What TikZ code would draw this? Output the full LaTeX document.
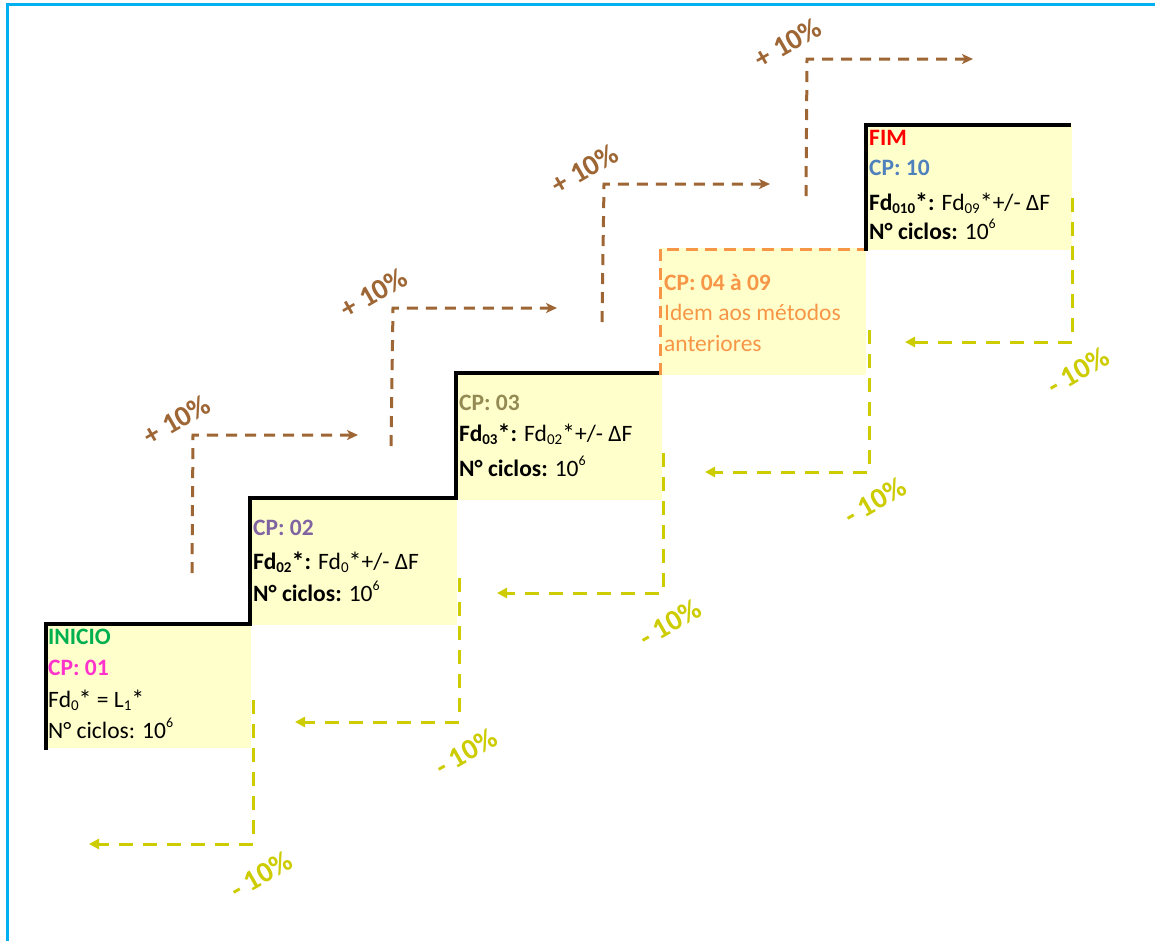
\documentclass[tikz,border=0pt]{standalone}
\usepackage{fontspec}
\setmainfont{Carlito}
\usetikzlibrary{arrows.meta}
\definecolor{boxfill}{RGB}{255,255,204}
\definecolor{frameblue}{RGB}{0,176,240}
\definecolor{upbrown}{RGB}{158,102,52}
\definecolor{downyel}{RGB}{204,204,0}
\definecolor{cinicio}{RGB}{0,176,80}
\definecolor{cpone}{RGB}{255,51,204}
\definecolor{cptwo}{RGB}{128,100,162}
\definecolor{cpthree}{RGB}{148,138,84}
\definecolor{cpfour}{RGB}{247,150,70}
\definecolor{cfim}{RGB}{255,0,0}
\definecolor{cpten}{RGB}{79,129,189}
\newcommand{\mysub}[1]{\raisebox{-0.3ex}{\fontsize{15}{15}\selectfont #1}}
\newcommand{\mysup}[1]{\raisebox{0.9ex}{\fontsize{14}{14}\selectfont #1}}
\newcommand{\bigast}{\raisebox{-0.1ex}{\fontsize{26}{26}\selectfont *}}
\tikzset{
  stepbox/.style={fill=boxfill, draw=none},
  txt/.style={anchor=base west, inner sep=0pt, font=\fontsize{23.5}{27}\selectfont},
  stair/.style={line width=4pt, line join=miter, black},
  upline/.style={draw=upbrown, line width=3pt, dash pattern=on 11pt off 8pt, -{Stealth[length=11pt,width=10pt,inset=3pt]}},
  downline/.style={draw=downyel, line width=3pt, dash pattern=on 14pt off 10pt, -{Triangle[length=10pt,width=10pt]}},
  uplabel/.style={text=upbrown, rotate=30, inner sep=0pt, font=\fontsize{29}{32}\selectfont\bfseries},
  downlabel/.style={text=downyel, rotate=30, inner sep=0pt, font=\fontsize{29}{32}\selectfont\bfseries}
}
\begin{document}
\begin{tikzpicture}[x=1pt,y=-1pt]
\useasboundingbox (0,0) rectangle (1155,940);
\fill[white] (0,0) rectangle (1155,940);
% frame
\draw[frameblue, line width=3pt] (7,945) -- (7,4) -- (1160,4);
% boxes
\fill[boxfill] (45,623) rectangle (251,748);
\fill[boxfill] (250,498) rectangle (457,625);
\fill[boxfill] (456,373) rectangle (662,500);
\fill[boxfill] (660,248) rectangle (866,375);
\fill[boxfill] (866,125) rectangle (1072,250);
% staircase
\coordinate (s0) at (46,750);
\coordinate (s1) at (46,624);
\coordinate (s2) at (250,624);
\coordinate (s3) at (250,498);
\coordinate (s4) at (456,498);
\coordinate (s5) at (456,373);
\coordinate (s6) at (662,373);
\coordinate (o0) at (660,375);
\coordinate (o1) at (660,249);
\coordinate (o2) at (866,249);
\coordinate (t0) at (866,251);
\coordinate (t1) at (866,125);
\coordinate (t2) at (1071,125);
\draw[stair] (s0) -- (s1) -- (s2) -- (s3) -- (s4) -- (s5) -- (s6);
\draw[cpfour, line width=3pt, dash pattern=on 12pt off 7pt] (o0) -- (o1) -- (o2);
\draw[stair] (t0) -- (t1) -- (t2);
% box texts
\node[txt] (i1) at (48,644) {\color{cinicio}\bfseries INICIO};
\node[txt] (i2) at (48,675) {\color{cpone}\bfseries CP: 01};
\node[txt] (i3) at (48,707) {Fd\mysub{0}\bigast{} = L\mysub{1}\bigast};
\node[txt] (i4) at (48,738) {N° ciclos: 10\mysup{6}};
\node[txt] (b1) at (253,535) {\color{cptwo}\bfseries CP: 02};
\node[txt] (b2) at (253,569) {\textbf{Fd\mysub{\bfseries 02}\bigast:} Fd\mysub{0}\bigast+/- ΔF};
\node[txt] (b3) at (253,601) {\textbf{N° ciclos:} 10\mysup{6}};
\node[txt] (c1) at (459,410) {\color{cpthree}\bfseries CP: 03};
\node[txt] (c2) at (459,441) {\textbf{Fd\mysub{\bfseries 03}\bigast:} Fd\mysub{02}\bigast+/- ΔF};
\node[txt] (c3) at (459,476) {\textbf{N° ciclos:} 10\mysup{6}};
\node[txt] (d1) at (664,290) {\color{cpfour}\bfseries CP: 04 à 09};
\node[txt] (d2) at (664,320) {\color{cpfour}Idem aos métodos};
\node[txt] (d3) at (664,351) {\color{cpfour}anteriores};
\node[txt] (e1) at (869,145) {\color{cfim}\bfseries FIM};
\node[txt] (e2) at (869,175) {\color{cpten}\bfseries CP: 10};
\node[txt] (e3) at (869,210) {\textbf{Fd\mysub{\bfseries 010}\bigast:} Fd\mysub{09}\bigast+/- ΔF};
\node[txt] (e4) at (869,239) {\textbf{N° ciclos:} 10\mysup{6}};
% up (brown) paths
\coordinate (ua0) at (192,573); \coordinate (ua1) at (193,435); \coordinate (ua2) at (358,435);
\coordinate (ub0) at (391,446); \coordinate (ub1) at (393,308); \coordinate (ub2) at (557,308);
\coordinate (uc0) at (602,322); \coordinate (uc1) at (604,184); \coordinate (uc2) at (770,184);
\coordinate (ud0) at (806,196); \coordinate (ud1) at (807,59);  \coordinate (ud2) at (973,59);
\draw[upline] (ua0) -- (ua1) -- (ua2);
\draw[upline] (ub0) -- (ub1) -- (ub2);
\draw[upline] (uc0) -- (uc1) -- (uc2);
\draw[upline] (ud0) -- (ud1) -- (ud2);
\node[uplabel] (la) at (177,420) {+ 10\%};
\node[uplabel] (lb) at (374,293) {+ 10\%};
\node[uplabel] (lc) at (585,169) {+ 10\%};
\node[uplabel] (ld) at (788,43) {+ 10\%};
% down (yellow) paths
\coordinate (da0) at (253,700);  \coordinate (da1) at (253,844);  \coordinate (da2) at (89,844);
\coordinate (db0) at (459,578);  \coordinate (db1) at (459,722);  \coordinate (db2) at (295,722);
\coordinate (dc0) at (663,453);  \coordinate (dc1) at (663,593);  \coordinate (dc2) at (497,593);
\coordinate (dd0) at (869,330);  \coordinate (dd1) at (869,472);  \coordinate (dd2) at (705,472);
\coordinate (de0) at (1072,198); \coordinate (de1) at (1072,342); \coordinate (de2) at (905,342);
\draw[downline] (da0) -- (da1) -- (da2);
\draw[downline] (db0) -- (db1) -- (db2);
\draw[downline] (dc0) -- (dc1) -- (dc2);
\draw[downline] (dd0) -- (dd1) -- (dd2);
\draw[downline] (de0) -- (de1) -- (de2);
\node[downlabel] (ma) at (261,875) {- 10\%};
\node[downlabel] (mb) at (466,752) {- 10\%};
\node[downlabel] (mc) at (670,623) {- 10\%};
\node[downlabel] (md) at (875,501) {- 10\%};
\node[downlabel] (me) at (1078,371) {- 10\%};
\end{tikzpicture}
\end{document}
